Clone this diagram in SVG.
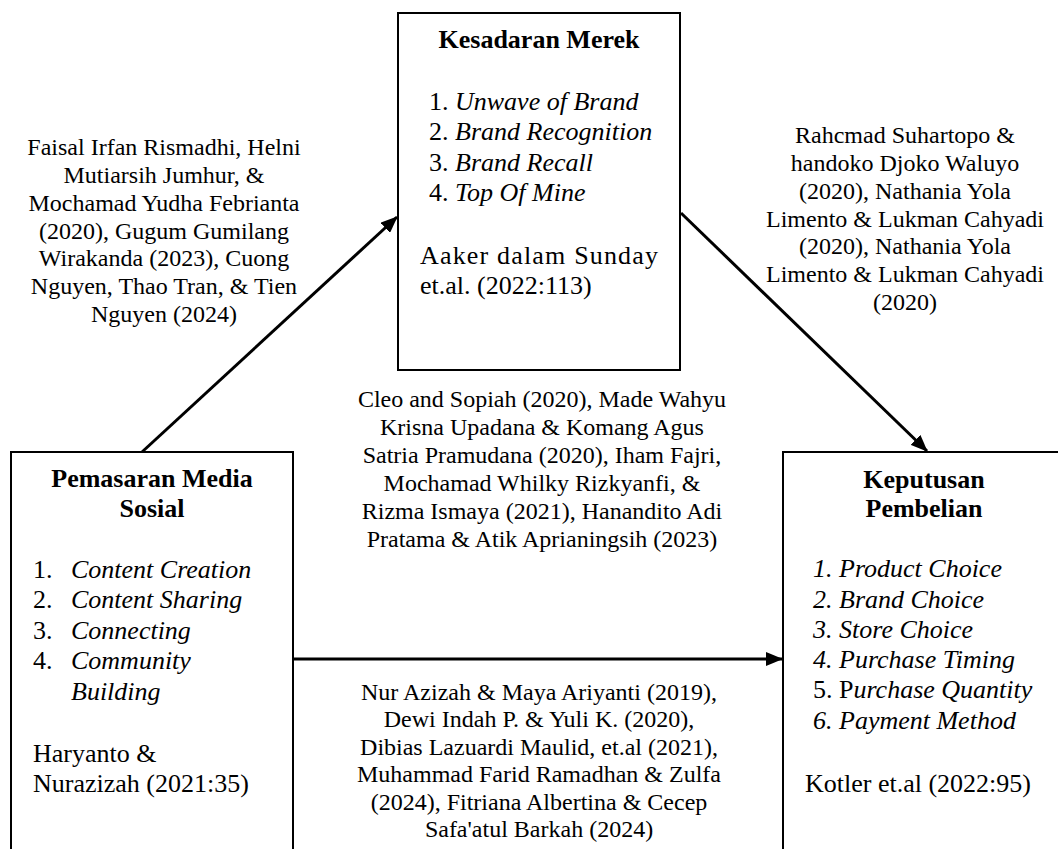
<svg xmlns="http://www.w3.org/2000/svg" width="1058" height="849" viewBox="0 0 1058 849" font-family="'Liberation Serif', Tinos, 'Times New Roman', 'Nimbus Roman', 'Nimbus Roman No9 L', FreeSerif, Times, serif">
<style>
.box{fill:#fff;stroke:#000;stroke-width:2}
.t{font-size:26px;fill:#000}
.b{font-weight:bold}
.i{font-style:italic}
.lbl{font-size:24px;fill:#000;text-anchor:middle}
.c{text-anchor:middle}
.con{stroke:#000;stroke-width:3;fill:none;marker-end:url(#ah)}
</style>
<defs>
<marker id="ah" markerUnits="userSpaceOnUse" markerWidth="17" markerHeight="14" refX="16" refY="7" orient="auto">
<path d="M0,0 L17,7 L0,14 z" fill="#000"/>
</marker>
</defs>
<rect width="1058" height="849" fill="#fff"/>
<g id="node-kesadaran">
<rect class="box" x="398" y="13" width="282" height="357"/>
<text class="t b c" x="539" y="48">Kesadaran Merek</text>
<text class="t" x="429" y="110">1. <tspan class="i">Unwave of Brand</tspan></text>
<text class="t" x="429" y="140">2. <tspan class="i">Brand Recognition</tspan></text>
<text class="t" x="429" y="171">3. <tspan class="i">Brand Recall</tspan></text>
<text class="t" x="429" y="201">4. <tspan class="i">Top Of Mine</tspan></text>
<text class="t" x="420" y="264" textLength="238" lengthAdjust="spacing">Aaker dalam Sunday</text>
<text class="t" x="420" y="294">et.al. (2022:113)</text>
</g>
<g id="node-pemasaran">
<rect class="box" x="11" y="452" width="282" height="420"/>
<text class="t b c" x="152" y="487">Pemasaran Media</text>
<text class="t b c" x="152" y="517">Sosial</text>
<text class="t" x="33" y="578">1.</text><text class="t i" x="71" y="578">Content Creation</text>
<text class="t" x="33" y="608">2.</text><text class="t i" x="71" y="608">Content Sharing</text>
<text class="t" x="33" y="639">3.</text><text class="t i" x="71" y="639">Connecting</text>
<text class="t" x="33" y="669">4.</text><text class="t i" x="71" y="669">Community</text>
<text class="t i" x="71" y="700">Building</text>
<text class="t" x="33" y="762">Haryanto &amp;</text>
<text class="t" x="33" y="792">Nurazizah (2021:35)</text>
</g>
<g id="node-keputusan">
<rect class="box" x="783" y="452" width="290" height="420"/>
<text class="t b c" x="924" y="488">Keputusan</text>
<text class="t b c" x="924" y="517">Pembelian</text>
<text class="t i" x="813" y="577">1. Product Choice</text>
<text class="t i" x="813" y="608">2. Brand Choice</text>
<text class="t i" x="813" y="638">3. Store Choice</text>
<text class="t i" x="813" y="668">4. Purchase Timing</text>
<text class="t" x="813" y="698">5. P<tspan class="i">urchase Quantity</tspan></text>
<text class="t i" x="813" y="729">6. Payment Method</text>
<text class="t" x="805" y="792">Kotler et.al (2022:95)</text>
</g>
<g id="connectors">
<line class="con" x1="142" y1="452" x2="397" y2="217"/>
<line class="con" x1="681" y1="213" x2="927" y2="451"/>
<line class="con" x1="294" y1="659" x2="782" y2="659"/>
</g>
<g id="labels">
<text class="lbl" x="164" y="155">Faisal Irfan Rismadhi, Helni</text>
<text class="lbl" x="164" y="183">Mutiarsih Jumhur, &amp;</text>
<text class="lbl" x="164" y="211">Mochamad Yudha Febrianta</text>
<text class="lbl" x="164" y="239">(2020), Gugum Gumilang</text>
<text class="lbl" x="164" y="266">Wirakanda (2023), Cuong</text>
<text class="lbl" x="164" y="294">Nguyen, Thao Tran, &amp; Tien</text>
<text class="lbl" x="164" y="322">Nguyen (2024)</text>
<text class="lbl" x="905" y="143">Rahcmad Suhartopo &amp;</text>
<text class="lbl" x="905" y="171">handoko Djoko Waluyo</text>
<text class="lbl" x="905" y="199">(2020), Nathania Yola</text>
<text class="lbl" x="905" y="227">Limento &amp; Lukman Cahyadi</text>
<text class="lbl" x="905" y="254">(2020), Nathania Yola</text>
<text class="lbl" x="905" y="282">Limento &amp; Lukman Cahyadi</text>
<text class="lbl" x="905" y="310">(2020)</text>
<text class="lbl" x="542" y="407">Cleo and Sopiah (2020), Made Wahyu</text>
<text class="lbl" x="542" y="435">Krisna Upadana &amp; Komang Agus</text>
<text class="lbl" x="542" y="463">Satria Pramudana (2020), Iham Fajri,</text>
<text class="lbl" x="542" y="491">Mochamad Whilky Rizkyanfi, &amp;</text>
<text class="lbl" x="542" y="519">Rizma Ismaya (2021), Hanandito Adi</text>
<text class="lbl" x="542" y="547">Pratama &amp; Atik Aprianingsih (2023)</text>
<text class="lbl" x="539" y="700">Nur Azizah &amp; Maya Ariyanti (2019),</text>
<text class="lbl" x="539" y="727">Dewi Indah P. &amp; Yuli K. (2020),</text>
<text class="lbl" x="539" y="755">Dibias Lazuardi Maulid, et.al (2021),</text>
<text class="lbl" x="539" y="782">Muhammad Farid Ramadhan &amp; Zulfa</text>
<text class="lbl" x="539" y="810">(2024), Fitriana Albertina &amp; Cecep</text>
<text class="lbl" x="539" y="837">Safa'atul Barkah (2024)</text>
</g>
</svg>
